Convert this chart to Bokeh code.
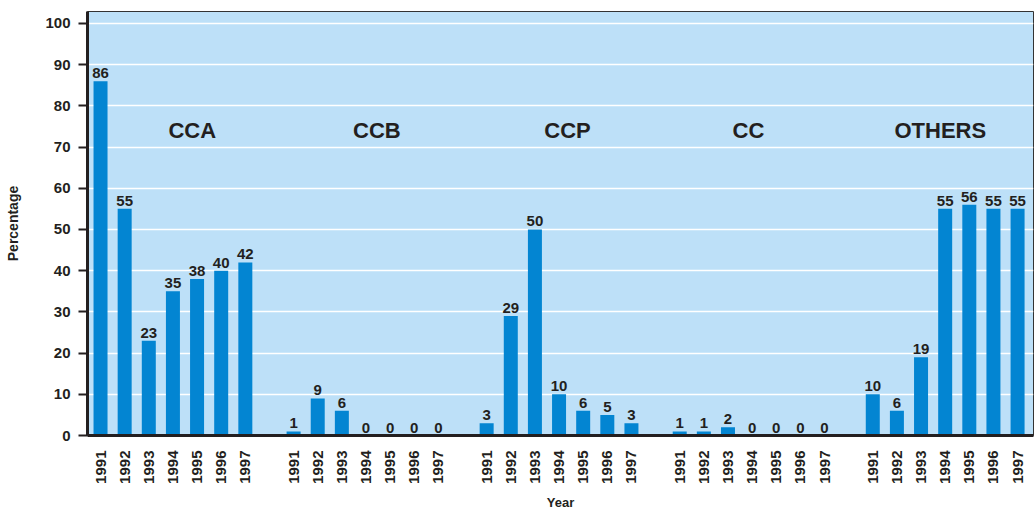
from bokeh.plotting import figure
from bokeh.models import Range1d, FixedTicker, ColumnDataSource
from bokeh.core.properties import value
from bokeh.embed import file_html
from bokeh.resources import INLINE
import math

# ---- data ----
groups = ["CCA", "CCB", "CCP", "CC", "OTHERS"]
years = ["1991", "1992", "1993", "1994", "1995", "1996", "1997"]
cca = [86, 55, 23, 35, 38, 40, 42]
ccb = [1, 9, 6, 0, 0, 0, 0]
ccp = [3, 29, 50, 10, 6, 5, 3]
cc = [1, 1, 2, 0, 0, 0, 0]
others = [10, 6, 19, 55, 56, 55, 55]
y_ticks = [0, 10, 20, 30, 40, 50, 60, 70, 80, 90, 100]

series = [cca, ccb, ccp, cc, others]

# ---- layout constants ----
SLOTS_PER_GROUP = len(years) + 1
label_offsets = [3.8, 3.45, 3.35, 2.85, 2.8]
LABEL_Y = 74
FONT = "Liberation Sans"
BAR_COLOR = "#0385d2"
BG = "#bde0f8"

xs, tops, texts, tick_labels = [], [], [], {}
for g, vals in enumerate(series):
    for i, v in enumerate(vals):
        x = g * SLOTS_PER_GROUP + i
        xs.append(x)
        tops.append(v)
        texts.append(str(v))
        tick_labels[x] = years[i]

src = ColumnDataSource(dict(x=xs, top=tops, text=texts))

p = figure(width=1036, height=512, output_backend="svg", toolbar_location=None,
           x_range=Range1d(-0.54, 38.66), y_range=Range1d(0, 102.9),
           min_border_left=87, min_border_right=3, min_border_top=11,
           min_border_bottom=74)
p.background_fill_color = BG
p.border_fill_color = "white"
p.outline_line_color = "#333333"
p.outline_line_width = 1

p.vbar(x="x", top="top", width=0.58, bottom=0, source=src,
       fill_color=BAR_COLOR, line_color=None)

p.text(x="x", y="top", text="text", source=src, text_align="center",
       text_baseline="bottom", y_offset=-3, text_font=value(FONT),
       text_font_style="bold", text_font_size="15px", text_color="#231f20")

lab_x = [g * SLOTS_PER_GROUP + label_offsets[g] for g in range(len(groups))]
p.text(x=lab_x, y=[LABEL_Y] * len(groups), text=groups, text_align="center",
       text_baseline="middle", text_font=value(FONT), text_font_style="bold",
       text_font_size="22px", text_color="#231f20")

# grid
p.xgrid.grid_line_color = None
p.ygrid.ticker = FixedTicker(ticks=y_ticks)
p.ygrid.grid_line_color = "white"
p.ygrid.grid_line_width = 1.5

# y axis
ya = p.yaxis[0]
ya.ticker = FixedTicker(ticks=y_ticks)
ya.axis_line_width = 3
ya.axis_line_color = "#231f20"
ya.major_tick_line_width = 2
ya.major_tick_line_color = "#231f20"
ya.major_tick_out = 9
ya.major_tick_in = 0
ya.minor_tick_line_color = None
ya.major_label_text_font = FONT
ya.major_label_text_font_style = "bold"
ya.major_label_text_font_size = "15px"
ya.major_label_text_color = "#231f20"
ya.major_label_standoff = 8
ya.axis_label = "Percentage"
ya.axis_label_text_font = FONT
ya.axis_label_text_font_style = "bold"
ya.axis_label_text_font_size = "14px"
ya.axis_label_text_color = "#231f20"
ya.axis_label_standoff = 21

# x axis
xa = p.xaxis[0]
xa.ticker = FixedTicker(ticks=xs)
xa.major_label_overrides = tick_labels
xa.major_label_orientation = math.pi / 2
xa.axis_line_width = 3
xa.axis_line_color = "#231f20"
xa.major_tick_line_color = None
xa.minor_tick_line_color = None
xa.major_label_text_font = FONT
xa.major_label_text_font_style = "bold"
xa.major_label_text_font_size = "15px"
xa.major_label_text_color = "#231f20"
xa.major_label_standoff = 9
xa.axis_label = "Year"
xa.axis_label_text_font = FONT
xa.axis_label_text_font_style = "bold"
xa.axis_label_text_font_size = "13px"
xa.axis_label_text_color = "#231f20"
xa.axis_label_standoff = 8

open("out.html", "w").write(file_html(p, INLINE))
